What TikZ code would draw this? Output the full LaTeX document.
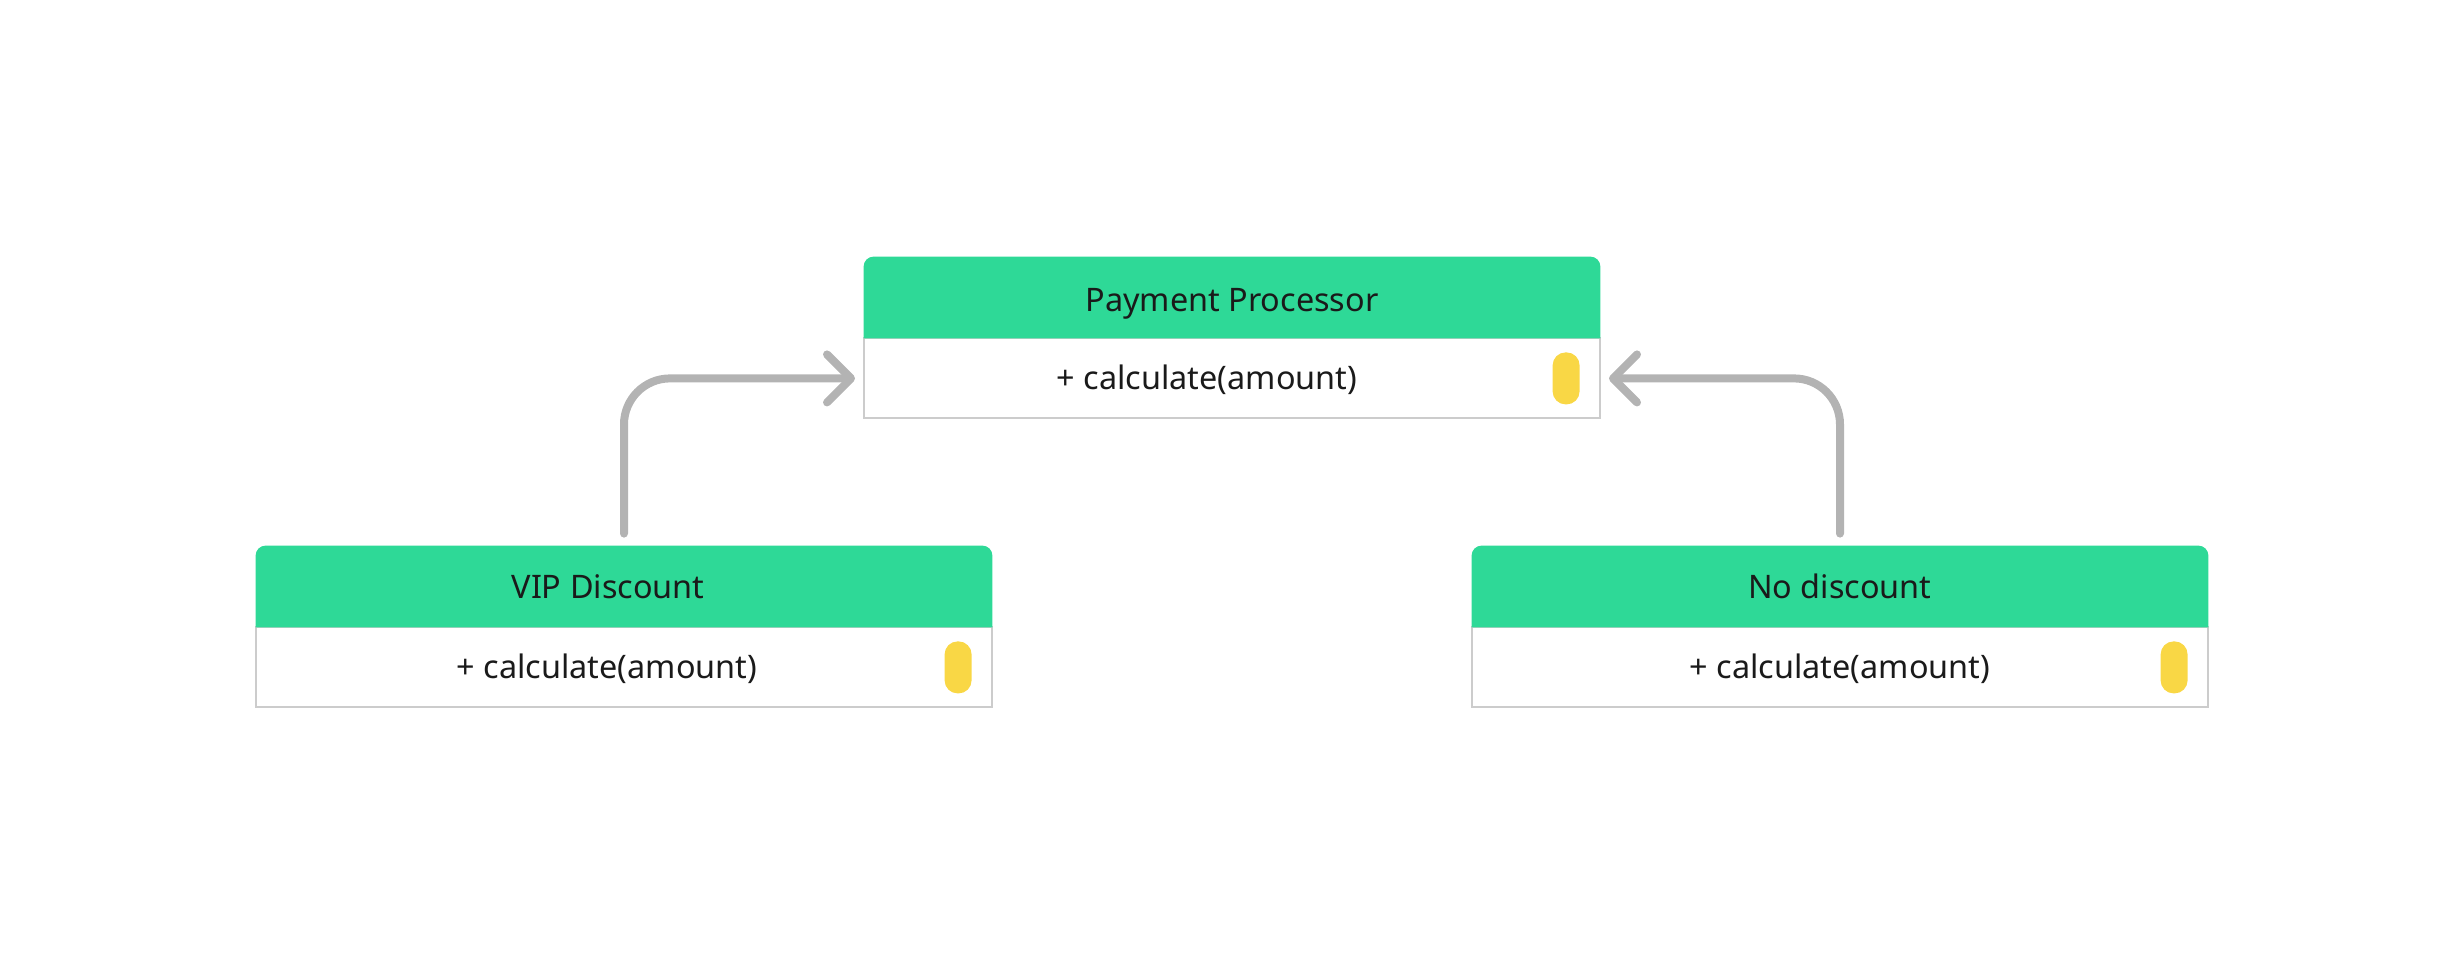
\documentclass[tikz,border=0pt]{standalone}
\usepackage{fontspec}
\setmainfont{Noto Sans}
\usepackage{tikz}
\usetikzlibrary{arrows.meta,positioning}
\definecolor{hdrgreen}{RGB}{46,217,151}
\definecolor{pillyellow}{RGB}{249,215,69}
\definecolor{arrowgray}{RGB}{179,179,179}
\definecolor{boxgray}{RGB}{204,204,204}
\definecolor{txtdark}{RGB}{26,26,26}
\tikzset{
  classhead/.style={minimum width=368pt,minimum height=40pt,inner sep=0pt},
  classbody/.style={draw=boxgray,line width=1pt,minimum width=368pt,minimum height=40pt,inner sep=0pt},
  classtext/.style={text=txtdark,inner sep=0pt,anchor=base,font=\fontsize{16.2}{19}\selectfont},
  pill/.style={fill=pillyellow,rounded corners=6.5pt,minimum width=13.5pt,minimum height=26pt,inner sep=0pt},
  inherit/.style={arrowgray,line width=4pt,line cap=round,rounded corners=23pt,
    -{Straight Barb[round,length=12pt,width=24pt]}}
}
\begin{document}
\begin{tikzpicture}[x=0.5pt,y=-0.5pt]
        \useasboundingbox (0,0) rectangle (2464,964);
        % class boxes
        \node[classhead] (pp) at (1232,297) {};
        \node[classbody,below=0pt of pp] (ppb) {};
        \node[classhead] (vip) at (624,586) {};
        \node[classbody,below=0pt of vip] (vipb) {};
        \node[classhead] (nod) at (1840,586) {};
        \node[classbody,below=0pt of nod] (nodb) {};
        \fill[hdrgreen,rounded corners=5pt] ([yshift=-0.5pt]pp.south west) |- (pp.north east) -- ([yshift=-0.5pt]pp.south east);
        \fill[hdrgreen,rounded corners=5pt] ([yshift=-0.5pt]vip.south west) |- (vip.north east) -- ([yshift=-0.5pt]vip.south east);
        \fill[hdrgreen,rounded corners=5pt] ([yshift=-0.5pt]nod.south west) |- (nod.north east) -- ([yshift=-0.5pt]nod.south east);
        % texts
        \node[classtext] (ppt) at (1232,311) {Payment Processor};
        \node[classtext] (ppm) at (1207,389) {+ calculate(amount)};
        \node[classtext] (vipt) at (608,598) {VIP Discount};
        \node[classtext] (vipm) at (607,678) {+ calculate(amount)};
        \node[classtext] (nodt) at (1840,598) {No discount};
        \node[classtext] (nodm) at (1840,678) {+ calculate(amount)};
        % yellow markers
        \node[pill,left=10.5pt of ppb.east] (ppp) {};
        \node[pill,left=10.5pt of vipb.east] (vipp) {};
        \node[pill,left=10.5pt of nodb.east] (nodp) {};
        % inheritance arrows
        \draw[inherit] ([yshift=6pt]vip.north) |- ([xshift=-4pt]ppb.west);
        \draw[inherit] ([yshift=6pt]nod.north) |- ([xshift=4pt]ppb.east);
\end{tikzpicture}
\end{document}
